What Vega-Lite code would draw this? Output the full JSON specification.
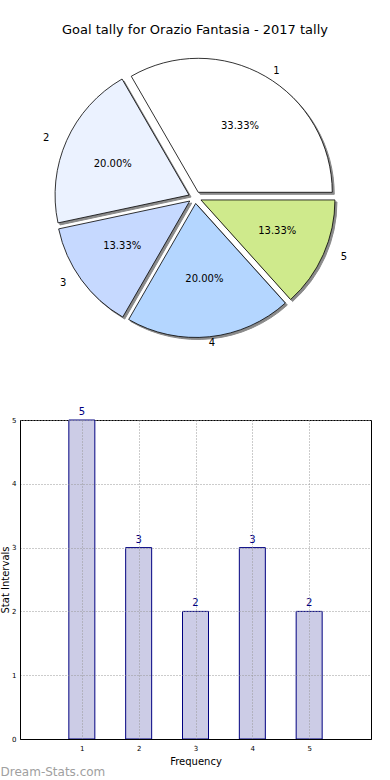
{
  "$schema": "https://vega.github.io/schema/vega-lite/v6.json",
  "padding": {"top": 24, "left": 0, "right": 0, "bottom": 0},
  "background": "white",
  "config": {"font": "DejaVu Sans", "view": {"stroke": null}},
  "datasets": {
    "tally": [
      {"slot": 1, "goals": 5, "pct": "33.33%"},
      {"slot": 2, "goals": 3, "pct": "20.00%"},
      {"slot": 3, "goals": 2, "pct": "13.33%"},
      {"slot": 4, "goals": 3, "pct": "20.00%"},
      {"slot": 5, "goals": 2, "pct": "13.33%"}
    ]
  },
  "bounds": "flush",
  "spacing": 66,
  "vconcat": [
    {
      "width": 350,
      "height": 313,
      "title": {"text": "Goal tally for Orazio Fantasia - 2017 tally", "fontSize": 13, "fontWeight": "normal", "color": "black", "offset": 4},
      "data": {"name": "tally"},
      "layer": [
        {
          "mark": {"type": "arc", "radius": 134, "fill": "#8a8a8a", "stroke": "#8a8a8a", "strokeWidth": 1,
            "xOffset": {"expr": "2 + 6.5*sin(7.853981634 - 0.41887902*(datum.goals_start+datum.goals_end)/2)"},
            "yOffset": {"expr": "2 - 6*cos(7.853981634 - 0.41887902*(datum.goals_start+datum.goals_end)/2)"}},
          "encoding": {
            "theta": {"field": "goals", "type": "quantitative", "stack": true, "scale": {"range": [7.853981633974483, 1.5707963267948966]}},
            "order": {"field": "slot", "type": "quantitative"}
          }
        },
        {
          "mark": {"type": "arc", "radius": 134, "stroke": "black", "strokeWidth": 0.8,
            "xOffset": {"expr": "6.5*sin(7.853981634 - 0.41887902*(datum.goals_start+datum.goals_end)/2)"},
            "yOffset": {"expr": "-6*cos(7.853981634 - 0.41887902*(datum.goals_start+datum.goals_end)/2)"}},
          "encoding": {
            "theta": {"field": "goals", "type": "quantitative", "stack": true, "scale": {"range": [7.853981633974483, 1.5707963267948966]}},
            "order": {"field": "slot", "type": "quantitative"},
            "color": {"field": "slot", "type": "nominal", "legend": null,
              "scale": {"domain": [1, 2, 3, 4, 5], "range": ["#ffffff", "#ebf2ff", "#c6d9ff", "#b4d6ff", "#cfea8c"]}}
          }
        },
        {
          "mark": {"type": "text", "radius": 0, "fontSize": 10, "fill": "black",
            "xOffset": {"expr": "90*sin(7.853981634 - 0.41887902*(datum.goals_start+datum.goals_end)/2)"},
            "yOffset": {"expr": "-82*cos(7.853981634 - 0.41887902*(datum.goals_start+datum.goals_end)/2)"}},
          "encoding": {
            "theta": {"field": "goals", "type": "quantitative", "stack": true},
            "order": {"field": "slot", "type": "quantitative"},
            "text": {"field": "pct"}
          }
        },
        {
          "mark": {"type": "text", "radius": 0, "fontSize": 10, "fill": "black",
            "xOffset": {"expr": "163*sin(7.853981634 - 0.41887902*(datum.goals_start+datum.goals_end)/2)"},
            "yOffset": {"expr": "-146*cos(7.853981634 - 0.41887902*(datum.goals_start+datum.goals_end)/2)"}},
          "encoding": {
            "theta": {"field": "goals", "type": "quantitative", "stack": true},
            "order": {"field": "slot", "type": "quantitative"},
            "text": {"field": "slot"}
          }
        }
      ]
    },
    {
      "width": 351,
      "height": 319,
      "view": {"stroke": "black", "strokeWidth": 1},
      "title": {"text": "Dream-Stats.com", "orient": "bottom", "anchor": "start", "frame": "bounds", "color": "#a0a0a0", "fontSize": 12, "fontWeight": "normal", "offset": 1},
      "data": {"name": "tally"},
      "encoding": {
        "x": {"field": "slot", "type": "quantitative", "scale": {"domain": [0, 6], "nice": false},
          "axis": {"values": [1, 2, 3, 4, 5], "title": "Frequency", "titleFontSize": 10, "titleFontWeight": "normal", "titleColor": "black", "titlePadding": 5,
            "labelFontSize": 7, "labelColor": "black", "ticks": false, "labelPadding": 5, "domainColor": "black",
            "grid": true, "gridColor": "#999999", "gridDash": [1, 2], "zindex": 1}},
        "y": {"field": "goals", "type": "quantitative", "scale": {"domain": [0, 5], "nice": false},
          "axis": {"values": [0, 1, 2, 3, 4, 5], "title": "Stat Intervals", "titleFontSize": 10, "titleFontWeight": "normal", "titleColor": "black", "titlePadding": 1,
            "labelFontSize": 7, "labelColor": "black", "ticks": false, "labelPadding": 4, "domainColor": "black",
            "grid": true, "gridColor": "#999999", "gridDash": [1, 2], "zindex": 1}}
      },
      "layer": [
        {"mark": {"type": "bar", "size": 26, "fill": "#ccccE6", "stroke": "#000080", "strokeWidth": 1}},
        {"mark": {"type": "text", "dy": -8, "fontSize": 10, "fill": "#000080"}, "encoding": {"text": {"field": "goals"}}}
      ]
    }
  ]
}
